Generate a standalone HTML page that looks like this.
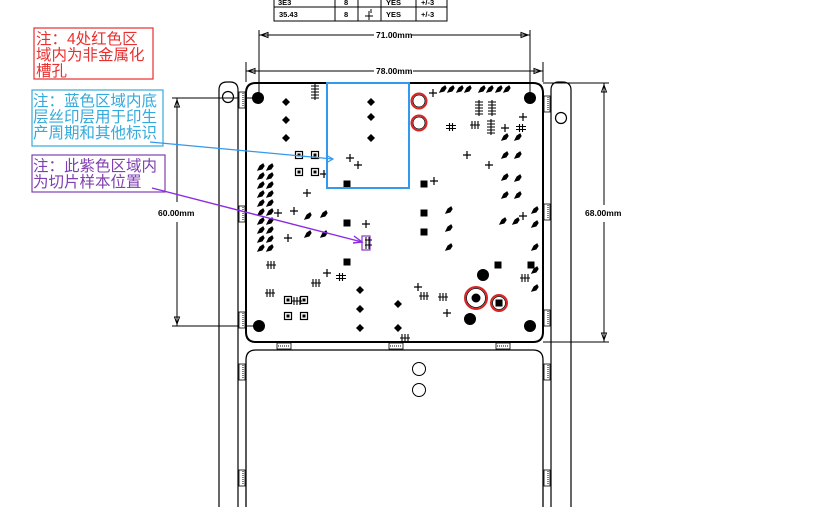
<!DOCTYPE html>
<html><head><meta charset="utf-8"><style>
html,body{margin:0;padding:0;background:#fff;width:819px;height:507px;overflow:hidden}
svg{display:block}
.n{font-family:"Liberation Sans","Noto Sans CJK SC",sans-serif;font-size:15.5px}
.t{font-family:"Liberation Sans",sans-serif;font-size:7.5px;fill:#000;font-weight:bold}
.d{font-family:"Liberation Sans",sans-serif;font-size:8.5px;fill:#000;font-weight:bold}
</style></head><body>
<svg width="819" height="507" viewBox="0 0 819 507" xmlns="http://www.w3.org/2000/svg">
<defs>
<path id="dm" d="M0,-4 L4,0 L0,4 L-4,0Z" fill="#000"/>
<path id="pd" d="M-3,3 L-1,-1 L2,-3 L3,-1 L1,2Z" fill="#000" stroke="#000" stroke-width="1.2"/>
<rect id="sq" x="-3.5" y="-3.5" width="7" height="7" fill="#000"/>
<g id="bq"><rect x="-3.5" y="-3.5" width="7" height="7" fill="none" stroke="#000" stroke-width="1.2"/><rect x="-1.5" y="-1.5" width="3" height="3" fill="#000"/></g>
<path id="cr" d="M-4,0 H4 M0,-4 V4" stroke="#000" stroke-width="1.2"/>
<path id="hh" d="M-5,-1.5 H5 M-5,1.5 H5 M-1.5,-4 V4 M1.5,-4 V4" stroke="#000" stroke-width="1.1"/>
<path id="tr" d="M-5,0 H5 M-3,-4 V4 M0,-4 V4 M3,-4 V4" stroke="#000" stroke-width="1.1"/>
<path id="vs" d="M-4,-6 H4 M-4,-3 H4 M-4,0 H4 M-4,3 H4 M-4,6 H4 M0,-8 V8" stroke="#000" stroke-width="1.1"/>
<g id="tab"><rect x="-7" y="-3" width="14" height="6" fill="#fff" stroke="#000" stroke-width="0.8"/><path d="M-6,0 H6" stroke="#000" stroke-width="1" stroke-dasharray="1,1"/></g>
<g id="vtab"><rect x="-3" y="-8" width="6" height="16" fill="#fff" stroke="#000" stroke-width="0.8"/><path d="M1,-7 V7" stroke="#000" stroke-width="1" stroke-dasharray="1,1"/></g>
</defs>

<g stroke="#000" stroke-width="1" fill="none">
<path d="M274,0 V21 H447 V0 M274,7 H447 M335,0 V21 M358,0 V21 M381,0 V21 M416,0 V21"/>
</g>
<text class="t" x="278" y="5">3E3</text><text class="t" x="344" y="5">8</text><text class="t" x="386" y="5">YES</text><text class="t" x="421" y="5">+/-3</text>
<text class="t" x="279" y="17">35.43</text><text class="t" x="344" y="17">8</text><text class="t" x="386" y="17">YES</text><text class="t" x="421" y="17">+/-3</text>
<path d="M365,16 H373 M369,11 V20 M371,9 V13" stroke="#000" stroke-width="1"/>

<g stroke="#000" stroke-width="1" fill="none">
<path d="M259,30 V98 M530,30 V98"/>
<path d="M259,35 H374 M411,35 H530"/>
<path d="M246,62 V82 M543,62 V82"/>
<path d="M246,71 H374 M413,71 H543"/>
<path d="M172,98 H258 M172,326 H258"/>
<path d="M177,98 V202 M177,222 V326"/>
<path d="M543,83 H609 M543,342 H609"/>
<path d="M604,83 V205 M604,222 V342"/>
<path d="M261,35 l7,-2.5 v5z M528,35 l-7,-2.5 v5z M248,71 l7,-2.5 v5z M541,71 l-7,-2.5 v5z"/>
<path d="M177,100 l-2.5,7 h5z M177,324 l-2.5,-7 h5z M604,85 l-2.5,7 h5z M604,340 l-2.5,-7 h5z"/>
</g>
<text class="d" x="376" y="38">71.00mm</text>
<text class="d" x="376" y="74">78.00mm</text>
<text class="d" x="158" y="216">60.00mm</text>
<text class="d" x="585" y="216">68.00mm</text>

<g stroke="#000" stroke-width="1.2" fill="none">
<path d="M219,507 V90 Q219,82 227,82 H230 Q238,82 238,90 V507"/>
<path d="M551,507 V90 Q551,82 559,82 H562 Q571,82 571,90 V507"/>
<circle cx="228" cy="97" r="5.5"/>
<circle cx="561" cy="118" r="5.5"/>
</g>
<path d="M256,83 H533 Q543,83 543,93 V332 Q543,342 533,342 H256 Q246,342 246,332 V93 Q246,83 256,83Z" fill="none" stroke="#000" stroke-width="2"/>
<path d="M246,507 V360 Q246,350 256,350 H533 Q543,350 543,360 V507" fill="none" stroke="#000" stroke-width="1.3"/>
<circle cx="419" cy="369" r="6.5" fill="none" stroke="#000"/>
<circle cx="419" cy="390" r="6.5" fill="none" stroke="#000"/>
<use href="#tab" x="284" y="346"/><use href="#tab" x="396" y="346"/><use href="#tab" x="503" y="346"/>
<use href="#vtab" x="242" y="100"/><use href="#vtab" x="242" y="214"/><use href="#vtab" x="242" y="320"/>
<use href="#vtab" x="242" y="372"/><use href="#vtab" x="242" y="478"/>
<use href="#vtab" x="547" y="104"/><use href="#vtab" x="547" y="212"/><use href="#vtab" x="547" y="318"/>
<use href="#vtab" x="547" y="372"/><use href="#vtab" x="547" y="478"/>

<g fill="#000">
<circle cx="258" cy="98" r="6"/><circle cx="530" cy="98" r="6"/>
<circle cx="259" cy="326" r="6"/><circle cx="530" cy="326" r="6"/>
<circle cx="483" cy="275" r="6"/><circle cx="470" cy="319" r="6"/>
<circle cx="476" cy="298" r="4.5"/>
</g>

<use href="#dm" x="286" y="102"/><use href="#dm" x="286" y="120"/><use href="#dm" x="286" y="138"/>
<use href="#dm" x="371" y="102"/><use href="#dm" x="371" y="117"/><use href="#dm" x="371" y="138"/>
<use href="#dm" x="360" y="290"/><use href="#dm" x="360" y="309"/><use href="#dm" x="360" y="328"/>
<use href="#dm" x="398" y="304"/><use href="#dm" x="398" y="328"/>
<use href="#bq" x="299" y="155"/><use href="#bq" x="315" y="155"/><use href="#bq" x="299" y="172"/><use href="#bq" x="315" y="172"/>
<use href="#bq" x="288" y="300"/><use href="#bq" x="304" y="300"/><use href="#bq" x="288" y="316"/><use href="#bq" x="304" y="316"/>
<use href="#sq" x="347" y="184"/><use href="#sq" x="424" y="184"/><use href="#sq" x="347" y="223"/>
<use href="#sq" x="424" y="213"/><use href="#sq" x="424" y="232"/><use href="#sq" x="347" y="262"/>
<use href="#sq" x="498" y="265"/><use href="#sq" x="531" y="265"/><use href="#sq" x="499" y="303"/>
<g>
<use href="#pd" x="261" y="167"/><use href="#pd" x="270" y="167"/><use href="#pd" x="261" y="176"/><use href="#pd" x="270" y="176"/>
<use href="#pd" x="261" y="185"/><use href="#pd" x="270" y="185"/><use href="#pd" x="261" y="194"/><use href="#pd" x="270" y="194"/>
<use href="#pd" x="261" y="203"/><use href="#pd" x="270" y="203"/><use href="#pd" x="261" y="212"/><use href="#pd" x="270" y="212"/>
<use href="#pd" x="261" y="221"/><use href="#pd" x="270" y="221"/><use href="#pd" x="261" y="230"/><use href="#pd" x="270" y="230"/>
<use href="#pd" x="261" y="239"/><use href="#pd" x="270" y="239"/><use href="#pd" x="261" y="248"/><use href="#pd" x="270" y="248"/>
<use href="#pd" x="308" y="216"/><use href="#pd" x="324" y="214"/><use href="#pd" x="308" y="234"/><use href="#pd" x="324" y="234"/>
<use href="#pd" x="449" y="210"/><use href="#pd" x="449" y="228"/><use href="#pd" x="449" y="247"/>
<use href="#pd" x="505" y="137"/><use href="#pd" x="518" y="137"/><use href="#pd" x="505" y="155"/><use href="#pd" x="518" y="155"/>
<use href="#pd" x="505" y="177"/><use href="#pd" x="518" y="178"/><use href="#pd" x="505" y="195"/><use href="#pd" x="518" y="195"/>
<use href="#pd" x="535" y="210"/><use href="#pd" x="535" y="224"/><use href="#pd" x="535" y="247"/>
<use href="#pd" x="535" y="270"/><use href="#pd" x="535" y="288"/>
<use href="#pd" x="443" y="89"/><use href="#pd" x="451" y="89"/><use href="#pd" x="460" y="89"/><use href="#pd" x="468" y="89"/>
<use href="#pd" x="482" y="89"/><use href="#pd" x="490" y="89"/><use href="#pd" x="499" y="89"/><use href="#pd" x="507" y="89"/>
<use href="#pd" x="503" y="221"/><use href="#pd" x="516" y="221"/>
</g>
<use href="#vs" x="315" y="92"/><use href="#vs" x="479" y="108"/><use href="#vs" x="492" y="108"/><use href="#vs" x="491" y="127"/>
<use href="#hh" x="451" y="127"/><use href="#hh" x="341" y="277"/><use href="#hh" x="521" y="128"/>
<use href="#tr" x="475" y="125"/><use href="#tr" x="271" y="265"/><use href="#tr" x="270" y="293"/><use href="#tr" x="316" y="283"/><use href="#tr" x="297" y="301"/>
<use href="#tr" x="424" y="296"/><use href="#tr" x="443" y="297"/><use href="#tr" x="525" y="278"/><use href="#tr" x="405" y="338"/>
<use href="#cr" x="433" y="93"/><use href="#cr" x="505" y="128"/><use href="#cr" x="467" y="155"/><use href="#cr" x="489" y="165"/>
<use href="#cr" x="523" y="216"/><use href="#cr" x="350" y="158"/><use href="#cr" x="358" y="165"/><use href="#cr" x="327" y="273"/>
<use href="#cr" x="294" y="211"/><use href="#cr" x="278" y="213"/><use href="#cr" x="288" y="238"/><use href="#cr" x="366" y="224"/>
<use href="#cr" x="324" y="174"/><use href="#cr" x="307" y="193"/><use href="#cr" x="418" y="287"/><use href="#cr" x="447" y="313"/>
<use href="#cr" x="523" y="117"/><use href="#cr" x="434" y="181"/>

<rect x="327" y="83" width="82" height="105" fill="none" stroke="#3399ee" stroke-width="2"/>
<g fill="none" stroke="#dd2222" stroke-width="2">
<circle cx="419" cy="101" r="7.5"/><circle cx="419" cy="123" r="7.5"/>
<circle cx="476" cy="298" r="11"/><circle cx="499" cy="303" r="8"/>
</g>
<g fill="none" stroke="#000" stroke-width="0.8">
<circle cx="419" cy="101" r="6"/><circle cx="419" cy="123" r="6"/>
<circle cx="476" cy="298" r="9.5"/><circle cx="499" cy="303" r="6.5"/>
</g>
<rect x="362" y="236" width="8" height="14" fill="none" stroke="#8833cc" stroke-width="1.2"/>
<path d="M365,240 H372 M365,245 H372 M366,237 V249 M369,237 V249" stroke="#000" stroke-width="1"/>

<rect x="34" y="28" width="119" height="51" fill="none" stroke="#e83030" stroke-width="1.2"/>
<text class="n" fill="#e83030"><tspan x="36" y="44">注：4处红色区</tspan><tspan x="36" y="60">域内为非金属化</tspan><tspan x="36" y="76">槽孔</tspan></text>
<rect x="32" y="90" width="131" height="56" fill="none" stroke="#33aadd" stroke-width="1.2"/>
<text class="n" fill="#33aadd"><tspan x="33" y="106">注：蓝色区域内底</tspan><tspan x="33" y="122">层丝印层用于印生</tspan><tspan x="33" y="138">产周期和其他标识</tspan></text>
<rect x="32" y="155" width="133" height="37" fill="none" stroke="#8040b0" stroke-width="1.2"/>
<text class="n" fill="#8040b0"><tspan x="33" y="171">注：此紫色区域内</tspan><tspan x="33" y="187">为切片样本位置</tspan></text>

<path d="M150,142 L333,159" stroke="#3399ee" stroke-width="1.2" fill="none"/>
<path d="M326,155 L333,159 L326,163" stroke="#3399ee" stroke-width="1.2" fill="none"/>
<path d="M152,188 L362,242" stroke="#8a2be2" stroke-width="1.4" fill="none"/>
<path d="M354,236 L362,242 L353,243" stroke="#8a2be2" stroke-width="1.4" fill="none"/>
</svg>
</body></html>
